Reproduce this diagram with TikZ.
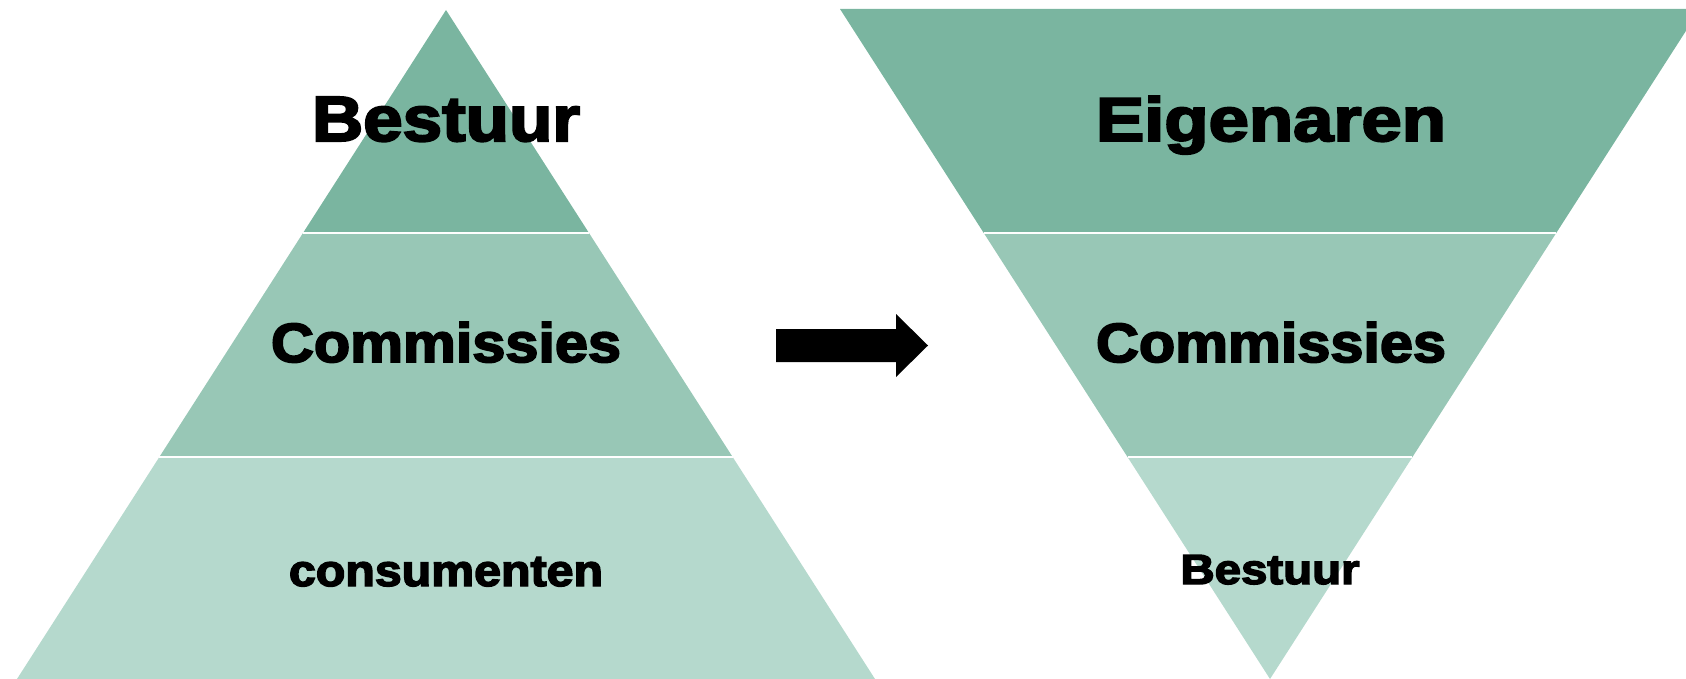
\documentclass[tikz,border=0pt]{standalone}
\usepackage{fontspec}
\setmainfont{Liberation Sans}[BoldFeatures={FakeBold=3.2}]
\usetikzlibrary{calc}
\definecolor{gdark}{HTML}{7AB5A0}
\definecolor{gmid}{HTML}{98C7B6}
\definecolor{glight}{HTML}{B5D9CD}
\newcommand{\fitlabel}[3]{\resizebox{#1pt}{#2pt}{\fontsize{40}{40}\selectfont\bfseries #3}}
\tikzset{
  band/.style={draw=none},
  sep/.style={draw=white, line width=2pt},
  lab/.style={anchor=base, inner sep=0pt, text=black},
}
\begin{document}
\begin{tikzpicture}[x=1pt,y=-1pt]
\useasboundingbox (0,0) rectangle (1686,679);
\clip (0,0) rectangle (1686,679);
% left pyramid
\coordinate (LA) at (446,10);
\coordinate (LBL) at (17,679);
\coordinate (LBR) at (875,679);
\coordinate (L1l) at ($(LA)!0.3333!(LBL)$);
\coordinate (L1r) at ($(LA)!0.3333!(LBR)$);
\coordinate (L2l) at ($(LA)!0.668!(LBL)$);
\coordinate (L2r) at ($(LA)!0.668!(LBR)$);
\fill[band, gdark] (LA) -- (L1r) -- (L1l) -- cycle;
\fill[band, gmid] (L1l) -- (L1r) -- (L2r) -- (L2l) -- cycle;
\fill[band, glight] (L2l) -- (L2r) -- (LBR) -- (LBL) -- cycle;
\draw[sep] (L1l) -- (L1r);
\draw[sep] (L2l) -- (L2r);
% right inverted pyramid
\coordinate (RTL) at (840,9);
\coordinate (RTR) at (1700,9);
\coordinate (RB) at (1270,679);
\coordinate (R1l) at ($(RTL)!0.3343!(RB)$);
\coordinate (R1r) at ($(RTR)!0.3343!(RB)$);
\coordinate (R2l) at ($(RTL)!0.6687!(RB)$);
\coordinate (R2r) at ($(RTR)!0.6687!(RB)$);
\fill[band, gdark] (RTL) -- (RTR) -- (R1r) -- (R1l) -- cycle;
\fill[band, gmid] (R1l) -- (R1r) -- (R2r) -- (R2l) -- cycle;
\fill[band, glight] (R2l) -- (R2r) -- (RB) -- cycle;
\draw[sep] (R1l) -- (R1r);
\draw[sep] (R2l) -- (R2r);
% arrow
\fill[black] (776,329) -- (896,329) -- (896,314) -- (928,345.5) -- (896,377) -- (896,362) -- (776,362) -- cycle;
% labels
\node[lab] (lbest) at (446,141) {\fitlabel{268}{44}{Bestuur}};
\node[lab] (lcom) at (446,362) {\fitlabel{350}{40}{Commissies}};
\node[lab] (lcons) at (446,586) {\fitlabel{314}{29}{consumenten}};
\node[lab] (reig) at (1271,141) {\fitlabel{350}{45}{Eigenaren}};
\node[lab] (rcom) at (1271,362) {\fitlabel{350}{40}{Commissies}};
\node[lab] (rbest) at (1270,584) {\fitlabel{179}{29}{Bestuur}};
\end{tikzpicture}
\end{document}
